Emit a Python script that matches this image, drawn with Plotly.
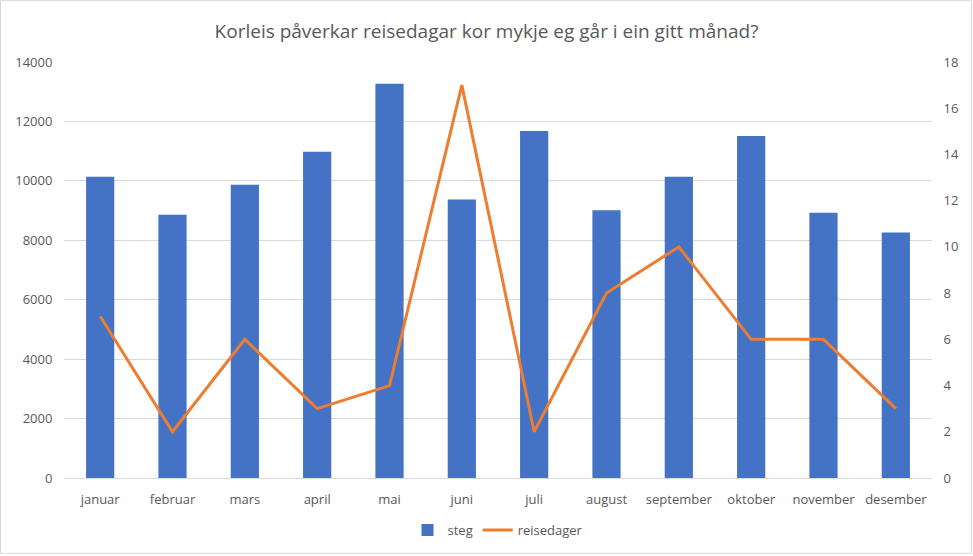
import plotly.graph_objects as go

months = ["januar", "februar", "mars", "april", "mai", "juni", "juli",
          "august", "september", "oktober", "november", "desember"]
steg = [10140, 8860, 9870, 10980, 13270, 9370, 11680, 9010, 10140, 11510, 8930, 8260]
reisedager = [7, 2, 6, 3, 4, 17, 2, 8, 10, 6, 6, 3]

W, H = 973, 556
ml, mr, mt, mb = 64, 41, 62, 77
pw, ph = W - ml - mr, H - mt - mb

font = "Open Sans"
grey = "#595959"

fig = go.Figure()
fig.add_trace(go.Bar(x=months, y=steg, name="steg", marker_color="#4472C4",
                     marker_line_width=0))
fig.add_trace(go.Scatter(x=months, y=reisedager, name="reisedager", yaxis="y2",
                         mode="lines", line=dict(color="#ED7D31", width=3)))

fig.update_layout(
    width=W, height=H,
    margin=dict(l=ml, r=mr, t=mt, b=mb),
    paper_bgcolor="white", plot_bgcolor="white",
    bargap=0.61,
    title=dict(text="Korleis påverkar reisedagar kor mykje eg går i ein gitt månad?",
               x=0.5, xanchor="center", y=1 - 31 / H, yanchor="middle",
               font=dict(family=font, size=19, color=grey)),
    font=dict(family=font, size=13, color=grey),
    xaxis=dict(showgrid=False, showline=True, linecolor="#d9d9d9", ticks="outside",
               ticklen=9, tickcolor="rgba(0,0,0,0)",
               tickfont=dict(size=13, color=grey)),
    yaxis=dict(range=[0, 14000], dtick=2000, tickformat="d", gridcolor="#d9d9d9",
               zeroline=False, showline=False, ticks="outside", ticklen=8,
               tickcolor="rgba(0,0,0,0)", tickfont=dict(size=13, color=grey)),
    yaxis2=dict(range=[0, 18], dtick=2, overlaying="y", side="right", showgrid=False,
                zeroline=False, showline=False, ticks="outside", ticklen=8,
                tickcolor="rgba(0,0,0,0)", tickfont=dict(size=13, color=grey)),
    legend=dict(orientation="h", x=0.5, xanchor="center", y=-(530 - (mt + ph)) / ph,
                yanchor="middle", font=dict(size=13, color=grey)),
    shapes=[dict(type="rect", xref="paper", yref="paper",
                 x0=-(ml - 0.5) / pw, x1=1 + (mr - 1.5) / pw,
                 y0=-(mb - 1.5) / ph, y1=1 + (mt - 0.5) / ph,
                 line=dict(color="#d9d9d9", width=1), layer="below")],
)

fig.write_html("out.html")
